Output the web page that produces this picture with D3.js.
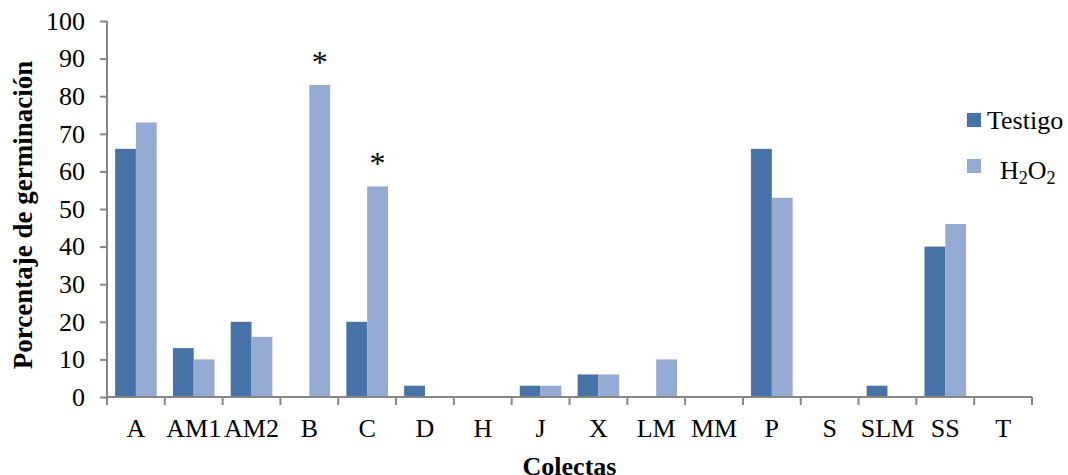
<!doctype html>
<meta charset="utf-8">
<title>Porcentaje de germinación</title>
<script src="https://cdnjs.cloudflare.com/ajax/libs/d3/7.8.5/d3.min.js"></script>
<style>
  body { margin: 0; background: #fff; }
  svg text { font-family: "Liberation Serif", "DejaVu Serif", serif; font-size: 26px; fill: #000; }
  svg text.titulo { font-weight: bold; }
</style>
<div id="chart"></div>
<script>
  // datos
  const colectas = ["A", "AM1", "AM2", "B", "C", "D", "H", "J", "X", "LM", "MM", "P", "S", "SLM", "SS", "T"]
  const testigo = [66, 13, 20, 0, 20, 3, 0, 3, 6, 0, 0, 66, 0, 3, 40, 0]
  const h2o2 = [73, 10, 16, 83, 56, 0, 0, 3, 6, 10, 0, 53, 0, 0, 46, 0]
  const yTicks = [0, 10, 20, 30, 40, 50, 60, 70, 80, 90, 100]
  const asteriscos = ["B", "C"]  // diferencias significativas (barra H2O2)

  const colores = { testigo: "#4672A8", h2o2: "#95AAD2" }

  const W = 1068, H = 475
  const m = { left: 107, right: 36, top: 21, bottom: 78 }

  const svg = d3.select("#chart").append("svg")
    .attr("width", W)
    .attr("height", H)

  const x = d3.scaleBand().domain(colectas)
    .range([m.left, W - m.right])
    .paddingInner(0).paddingOuter(0)
  const x1 = d3.scaleBand().domain(["testigo", "h2o2"])
    .range([0, x.bandwidth()])
    .paddingInner(0).paddingOuter(0.39)
  const y = d3.scaleLinear().domain([0, 100]).range([H - m.bottom, m.top])

  const filas = colectas.map((c, i) => ({ c, testigo: testigo[i], h2o2: h2o2[i] }))

  // barras
  const grupos = svg.append("g").selectAll("g")
    .data(filas).enter().append("g")
    .attr("transform", d => `translate(${x(d.c)},0)`)

  grupos.selectAll("rect")
    .data(d => ["testigo", "h2o2"].map(k => ({ k, v: d[k] })))
    .enter().append("rect")
    .attr("x", d => x1(d.k))
    .attr("y", d => y(d.v))
    .attr("width", x1.bandwidth())
    .attr("height", d => y(0) - y(d.v))
    .attr("fill", d => colores[d.k])

  // eje Y
  const ejeY = svg.append("g")
    .attr("transform", `translate(${m.left},0)`)
    .call(d3.axisLeft(y).tickValues(yTicks).tickSize(7).tickPadding(15))

  // eje X: marcas en los bordes de cada categoría
  const ejeX = svg.append("g")
    .attr("transform", `translate(0,${y(0)})`)
    .call(d3.axisBottom(x).tickSize(0).tickPadding(22))
  ejeX.selectAll(".borde")
    .data(colectas.map(c => x(c)).concat([x.range()[1]]))
    .enter().append("line")
    .attr("class", "borde")
    .attr("x1", d => d).attr("x2", d => d)
    .attr("y1", 0).attr("y2", 8)

  svg.selectAll(".domain, .tick line, .borde")
    .attr("stroke", "#868686").attr("stroke-width", 2)
  ejeX.select(".domain").attr("d", `M${m.left},0H${W - m.right}`)
  ejeY.select(".domain").attr("d", `M0,${m.top}V${y(0)}`)

  // asteriscos
  svg.selectAll(".ast")
    .data(asteriscos).enter().append("text")
    .attr("x", d => x(d) + x1("h2o2") + x1.bandwidth() / 2)
    .attr("y", d => y(h2o2[colectas.indexOf(d)]) - 12)
    .attr("text-anchor", "middle")
    .style("font-size", "32px")
    .text("*")

  // títulos
  svg.append("text")
    .attr("class", "titulo")
    .attr("x", (m.left + W - m.right) / 2)
    .attr("y", 475)
    .attr("text-anchor", "middle")
    .text("Colectas")

  svg.append("text")
    .attr("class", "titulo")
    .attr("transform", `translate(32,${(m.top + y(0)) / 2 + 6}) rotate(-90)`)
    .attr("text-anchor", "middle")
    .style("font-size", "27px")
    .text("Porcentaje de germinación")

  // leyenda
  const ley = svg.append("g")
  ley.append("rect").attr("x", 967).attr("y", 113).attr("width", 14).attr("height", 14).attr("fill", colores.testigo)
  ley.append("text").attr("x", 987).attr("y", 129).text("Testigo")
  ley.append("rect").attr("x", 967).attr("y", 159).attr("width", 14).attr("height", 14).attr("fill", colores.h2o2)
  const t2 = ley.append("text").attr("x", 1000).attr("y", 179)
  t2.append("tspan").text("H")
  t2.append("tspan").style("font-size", "18px").attr("dy", 5).text("2")
  t2.append("tspan").attr("dy", -5).text("O")
  t2.append("tspan").style("font-size", "18px").attr("dy", 5).text("2")
</script>
